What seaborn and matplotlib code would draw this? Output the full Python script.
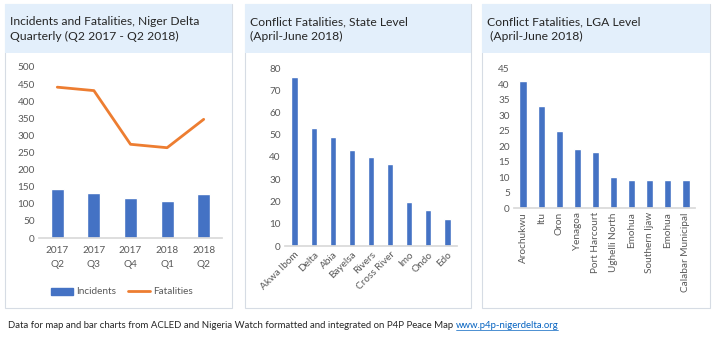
import numpy as np
import pandas as pd
import matplotlib
matplotlib.use("Agg")
import matplotlib.pyplot as plt
import seaborn as sns
from matplotlib.patches import Rectangle, Patch
from matplotlib.lines import Line2D

# --- Data ---
quarters = ["2017\nQ2", "2017\nQ3", "2017\nQ4", "2018\nQ1", "2018\nQ2"]
incidents = [142, 133, 116, 109, 128]
fatalities = [441, 431, 274, 264, 347]

states = ["Akwa Ibom", "Delta", "Abia", "Bayelsa", "Rivers", "Cross River", "Imo", "Ondo", "Edo"]
state_fatal = [76, 53, 49, 43, 40, 37, 20, 16, 12]

lgas = ["Arochukwu", "Itu", "Oron", "Yenagoa", "Port Harcourt", "Ughelli North",
        "Emohua", "Southern Ijaw", "Emohua", "Calabar Municipal"]
lga_fatal = [41, 33, 25, 19, 18, 10, 9, 9, 9, 9]

BLUE = "#4472C4"
ORANGE = "#ED7D31"
GREY = "#595959"
HEADER = "#E3EFFB"

sns.set_theme(style="white")
plt.rcParams["font.family"] = ["Lato", "DejaVu Sans"]

W, H = 717, 350
fig = plt.figure(figsize=(7.17, 3.5), dpi=100)
fig.patch.set_facecolor("white")


def px_axes(x0, x1, ytop, ybot):
    return fig.add_axes([x0 / W, 1 - ybot / H, (x1 - x0) / W, (ybot - ytop) / H])


def panel(x0, x1, title):
    # body with thin border, light-blue header band
    fig.patches.append(Rectangle((x0 / W, 1 - 308 / H), (x1 - x0) / W, (308 - 4) / H,
                                 transform=fig.transFigure, facecolor="white",
                                 edgecolor="#D6DCE4", lw=0.8, zorder=-2))
    fig.patches.append(Rectangle((x0 / W, 1 - 53 / H), (x1 - x0) / W, (53 - 4) / H,
                                 transform=fig.transFigure, facecolor=HEADER,
                                 edgecolor="none", zorder=-1))
    fig.text((x0 + 5) / W, 1 - 16 / H, title, fontsize=8.7, color="#262626",
             va="top", ha="left", linespacing=1.45)


def style(ax, ymax, step):
    ax.set_ylim(0, ymax)
    ax.set_yticks(np.arange(0, ymax + 1, step))
    for s in ["top", "right", "left"]:
        ax.spines[s].set_visible(False)
    ax.spines["bottom"].set_color("#D9D9D9")
    ax.tick_params(axis="both", colors=GREY, labelsize=7.2, length=0, pad=3)
    ax.set_xlabel("")
    ax.set_ylabel("")
    ax.set_facecolor("none")


panel(5, 232, "Incidents and Fatalities, Niger Delta\nQuarterly (Q2 2017 - Q2 2018)")
panel(245, 471, "Conflict Fatalities, State Level\n(April-June 2018)")
panel(482, 710, "Conflict Fatalities, LGA Level\n (April-June 2018)")

# --- Panel 1: incidents bars + fatalities line ---
ax1 = px_axes(39, 222, 67, 238)
sns.barplot(x=quarters, y=incidents, color=BLUE, width=0.35, saturation=1, ax=ax1)
sns.lineplot(x=np.arange(len(quarters)), y=fatalities, color=ORANGE, lw=2, ax=ax1)
style(ax1, 500, 50)
ax1.set_xlim(-0.5, len(quarters) - 0.5)
ax1.tick_params(axis="x", pad=6)
for lab in ax1.get_xticklabels():
    lab.set_linespacing(1.6)
handles = [Patch(color=BLUE, label="Incidents"),
           Line2D([0], [0], color=ORANGE, lw=2, label="Fatalities")]
fig.legend(handles=handles, loc="center", bbox_to_anchor=(122 / W, 1 - 292 / H), ncol=2,
           frameon=False, fontsize=7.2, labelcolor=GREY, handlelength=2.2,
           handleheight=0.7, columnspacing=1.2, handletextpad=0.3)

# --- Panel 2: state level ---
ax2 = px_axes(285, 457, 68, 246)
sns.barplot(x=states, y=state_fatal, color=BLUE, width=0.33, saturation=1, ax=ax2)
style(ax2, 80, 10)
ax2.set_xticks(range(len(states)))
ax2.set_xticklabels(states, rotation=45, ha="right", rotation_mode="anchor")

# --- Panel 3: LGA level ---
ax3 = px_axes(514, 695, 69, 208)
sns.barplot(x=np.arange(len(lgas)), y=lga_fatal, color=BLUE, width=0.4, saturation=1, ax=ax3)
style(ax3, 45, 5)
ax3.set_xticks(range(len(lgas)))
ax3.set_xticklabels(lgas, rotation=90)

# --- Footer ---
t = fig.text(8 / W, 1 - 326 / H,
             "Data for map and bar charts from ACLED and Nigeria Watch formatted and integrated on P4P Peace Map ",
             fontsize=6.9, color="#262626", va="center", ha="left")
fig.canvas.draw()
bb = t.get_window_extent()
link = fig.text(bb.x1 / W, 1 - 326 / H, "www.p4p-nigerdelta.org", fontsize=6.9, color="#0563C1",
                va="center", ha="left")
fig.canvas.draw()
lb = link.get_window_extent()
fig.add_artist(Line2D([lb.x0 / W, lb.x1 / W], [(lb.y0 + 0.5) / H, (lb.y0 + 0.5) / H],
                      color="#0563C1", lw=0.5, transform=fig.transFigure))

fig.savefig("out.png", dpi=100)
